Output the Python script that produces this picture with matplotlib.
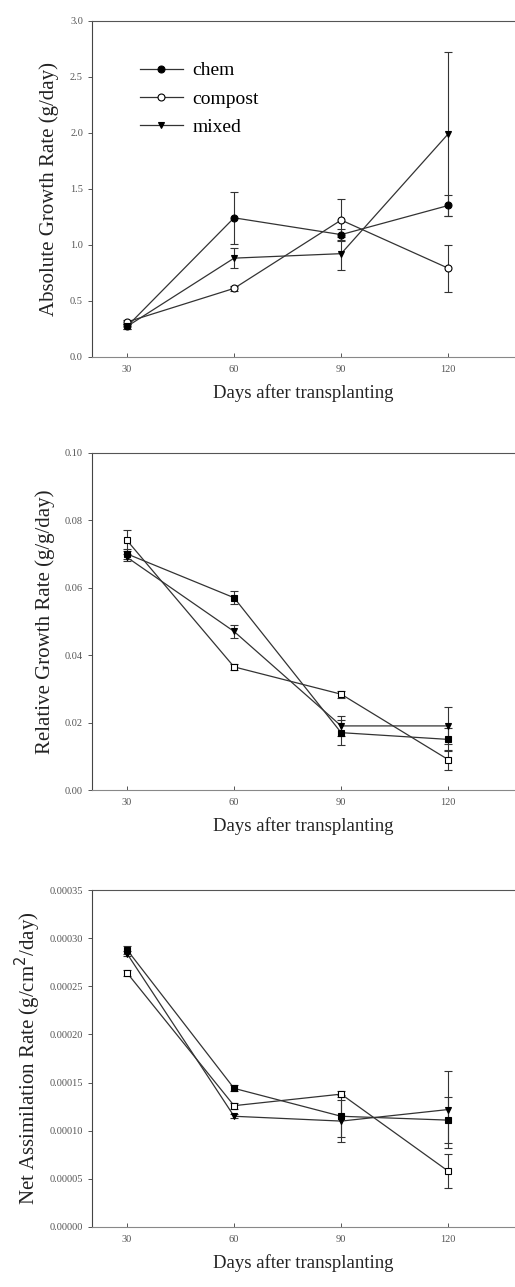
import matplotlib
matplotlib.use("Agg")
import matplotlib.pyplot as plt

plt.rcParams["font.family"] = ["Liberation Serif", "DejaVu Serif"]

days = [30, 60, 90, 120]
x_ticks = [30, 60, 90, 120]

# Absolute growth rate (g/day)
agr_chem = [0.27, 1.24, 1.09, 1.35]
agr_chem_err = [0.02, 0.23, 0.05, 0.09]
agr_compost = [0.31, 0.61, 1.22, 0.79]
agr_compost_err = [0.02, 0.02, 0.19, 0.21]
agr_mixed = [0.27, 0.88, 0.92, 1.99]
agr_mixed_err = [0.02, 0.09, 0.15, 0.73]

# Relative growth rate (g/g/day)
rgr_chem = [0.070, 0.057, 0.017, 0.015]
rgr_chem_err = [0.0015, 0.002, 0.0037, 0.0035]
rgr_compost = [0.074, 0.0365, 0.0284, 0.009]
rgr_compost_err = [0.003, 0.001, 0.001, 0.003]
rgr_mixed = [0.069, 0.047, 0.019, 0.019]
rgr_mixed_err = [0.001, 0.002, 0.003, 0.0055]

# Net assimilation rate (g/cm2/day)
nar_chem = [0.000288, 0.000144, 0.000115, 0.000111]
nar_chem_err = [0.000004, 0.000003, 0.000022, 0.000024]
nar_compost = [0.000264, 0.000126, 0.000138, 0.000058]
nar_compost_err = [0.000003, 0.000003, 0.000003, 0.000018]
nar_mixed = [0.000284, 0.000115, 0.000110, 0.000122]
nar_mixed_err = [0.000003, 0.000002, 0.000022, 0.000040]

labels = ["chem", "compost", "mixed"]

W, H = 515, 1287
fig = plt.figure(figsize=(W / 100, H / 100), dpi=100)

left = 92 / W
panels = [
    (20.7, 356.7),
    (452.7, 790.0),
    (890.0, 1227.0),
]


def make_axes(top, bottom):
    ax = fig.add_axes([left, 1 - bottom / H, 1 - left, (bottom - top) / H])
    ax.spines["right"].set_visible(False)
    ax.spines["top"].set_color("#555555")
    ax.spines["left"].set_color("#444444")
    ax.spines["bottom"].set_color("#888888")
    ax.spines["bottom"].set_linestyle((0, (2, 1)))
    ax.set_xlim(20.2, 138.7)
    ax.set_xticks(x_ticks)
    ax.tick_params(axis="both", labelsize=7.5, colors="#555555", length=3, width=0.7)
    ax.tick_params(axis="x", direction="in", pad=6)
    ax.set_xlabel("Days after transplanting", fontsize=13.5, color="#222222", labelpad=7)
    return ax


def draw(ax, series, errs, mk):
    styles = [(mk, "black"), (mk, "white"), ("v", "black")]
    for vals, err, (m, fc), lab in zip(series, errs, styles, labels):
        ax.errorbar(days, vals, yerr=err, color="#333333", lw=0.9, marker=m,
                    ms=5, mfc=fc, mec="black", mew=0.8, capsize=3,
                    elinewidth=0.8, capthick=0.8, label=lab)


ax1 = make_axes(*panels[0])
draw(ax1, [agr_chem, agr_compost, agr_mixed],
     [agr_chem_err, agr_compost_err, agr_mixed_err], "o")
ax1.set_ylim(0.0, 3.0)
ax1.set_yticks([0.0, 0.5, 1.0, 1.5, 2.0, 2.5, 3.0])
ax1.set_yticklabels(["0.0", "0.5", "1.0", "1.5", "2.0", "2.5", "3.0"])
ax1.set_ylabel("Absolute Growth Rate (g/day)", fontsize=15, color="#222222", labelpad=8)
h, l = ax1.get_legend_handles_labels()
h = [hh[0] for hh in h]
ax1.legend(h, l, loc="upper left", bbox_to_anchor=(0.072, 0.93), frameon=False,
           fontsize=14, handlelength=2.2, handletextpad=0.5, labelspacing=0.55,
           numpoints=1)

ax2 = make_axes(*panels[1])
draw(ax2, [rgr_chem, rgr_compost, rgr_mixed],
     [rgr_chem_err, rgr_compost_err, rgr_mixed_err], "s")
ax2.set_ylim(0.0, 0.10)
ax2.set_yticks([0.0, 0.02, 0.04, 0.06, 0.08, 0.10])
ax2.set_yticklabels(["0.00", "0.02", "0.04", "0.06", "0.08", "0.10"])
ax2.set_ylabel("Relative Growth Rate (g/g/day)", fontsize=15, color="#222222", labelpad=7)

ax3 = make_axes(*panels[2])
draw(ax3, [nar_chem, nar_compost, nar_mixed],
     [nar_chem_err, nar_compost_err, nar_mixed_err], "s")
ax3.set_ylim(0.0, 0.00035)
yt3 = [0.0, 0.00005, 0.00010, 0.00015, 0.00020, 0.00025, 0.00030, 0.00035]
ax3.set_yticks(yt3)
ax3.set_yticklabels(["%.5f" % v for v in yt3])
ax3.set_ylabel(r"Net Assimilation Rate (g/cm$^2$/day)", fontsize=15, color="#222222", labelpad=5)

fig.savefig("out.png", dpi=100)
